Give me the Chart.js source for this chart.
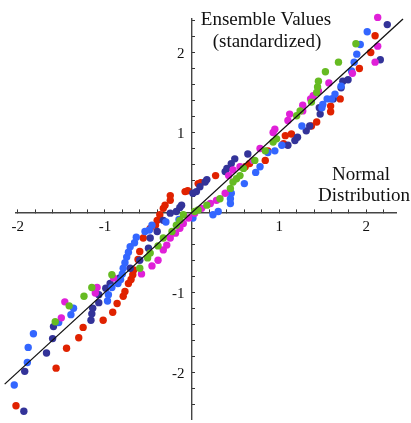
<!DOCTYPE html>
<html>
<head>
<meta charset="utf-8">
<script src="https://cdn.jsdelivr.net/npm/chart.js@4"></script>
<style>
  html, body { margin: 0; padding: 0; background: #fff; }
  canvas { display: block; }
</style>
</head>
<body>
<canvas id="qq" width="411" height="423"></canvas>
<script>
// ---------- DATA (normal quantile x, standardized ensemble value y) ----------
const greenX = [-2.08, -1.57, -1.41, -1.24, -1.15, -0.92, -0.60, -0.51, -0.48, -0.39, -0.33, -0.23, -0.18, -0.14, -0.10, 0.03, 0.07, 0.17, 0.32, 0.44, 0.47, 0.51, 0.55, 0.59, 0.72, 0.84, 0.93, 0.97, 1.20, 1.24, 1.37, 1.43, 1.44, 1.45, 1.53, 1.68, 1.88, 2.16];
const greenY = [-1.83, -1.37, -1.17, -1.05, -0.94, -0.78, -0.70, -0.57, -0.51, -0.42, -0.32, -0.24, -0.16, -0.10, -0.03, 0.01, 0.03, 0.09, 0.17, 0.30, 0.38, 0.42, 0.46, 0.55, 0.65, 0.77, 0.88, 0.92, 1.21, 1.27, 1.38, 1.50, 1.57, 1.64, 1.76, 1.88, 2.11, 2.53];

const magentaX = [-2.12, -1.50, -1.46, -1.11, -1.09, -0.90, -0.58, -0.46, -0.39, -0.33, -0.29, -0.25, -0.19, -0.14, -0.10, -0.04, 0.03, 0.11, 0.21, 0.28, 0.38, 0.42, 0.47, 0.55, 0.70, 0.78, 0.93, 0.95, 1.10, 1.12, 1.27, 1.27, 1.36, 1.39, 1.45, 1.57, 1.84, 2.10, 2.13, 2.13];
const magentaY = [-1.75, -1.32, -1.12, -1.01, -0.94, -0.82, -0.77, -0.67, -0.60, -0.47, -0.41, -0.32, -0.26, -0.20, -0.14, -0.07, -0.01, 0.05, 0.11, 0.15, 0.24, 0.46, 0.53, 0.57, 0.65, 0.80, 1.00, 1.04, 1.15, 1.23, 1.27, 1.34, 1.42, 1.46, 1.52, 1.62, 1.74, 1.88, 2.08, 2.44];

const redX = [-2.02, -1.56, -1.44, -1.30, -1.25, -1.02, -0.91, -0.86, -0.79, -0.77, -0.73, -0.70, -0.68, -0.67, -0.62, -0.60, -0.56, -0.48, -0.42, -0.40, -0.37, -0.33, -0.31, -0.25, -0.25, -0.08, -0.05, 0.07, 0.10, 0.27, 0.61, 0.66, 0.84, 0.87, 1.05, 1.07, 1.14, 1.37, 1.43, 1.59, 1.59, 1.70, 1.92, 2.05, 2.10];
const redY = [-2.42, -1.95, -1.70, -1.57, -1.44, -1.35, -1.25, -1.14, -1.05, -0.99, -0.89, -0.84, -0.78, -0.72, -0.59, -0.49, -0.32, -0.20, -0.16, -0.10, -0.03, 0.05, 0.09, 0.15, 0.21, 0.26, 0.27, 0.36, 0.37, 0.46, 0.57, 0.61, 0.65, 0.77, 0.86, 0.96, 0.98, 1.08, 1.13, 1.26, 1.33, 1.42, 1.80, 2.00, 2.21];

const blueX = [-2.04, -1.89, -1.88, -1.82, -1.53, -1.39, -1.36, -0.97, -0.96, -0.92, -0.85, -0.82, -0.80, -0.79, -0.77, -0.75, -0.73, -0.71, -0.66, -0.64, -0.54, -0.49, -0.46, -0.30, -0.15, 0.01, 0.24, 0.30, 0.44, 0.44, 0.45, 0.60, 0.73, 0.78, 0.87, 0.95, 1.03, 1.26, 1.49, 1.50, 1.55, 1.60, 1.64, 1.71, 1.83, 1.86, 1.89, 1.93, 2.01, 2.04];
const blueY = [-2.16, -1.88, -1.69, -1.52, -1.38, -1.28, -1.20, -1.11, -1.03, -0.94, -0.89, -0.84, -0.77, -0.70, -0.63, -0.56, -0.50, -0.43, -0.38, -0.31, -0.24, -0.22, -0.16, -0.12, -0.09, -0.07, -0.03, 0.01, 0.11, 0.17, 0.24, 0.36, 0.50, 0.57, 0.75, 0.77, 0.84, 1.08, 1.31, 1.35, 1.42, 1.42, 1.48, 1.58, 1.77, 1.88, 1.98, 2.10, 2.26, 2.50];

const navyX = [-1.93, -1.92, -1.67, -1.60, -1.59, -1.16, -1.15, -1.14, -1.07, -1.07, -0.99, -0.94, -0.83, -0.71, -0.60, -0.50, -0.48, -0.40, -0.33, -0.25, -0.18, -0.14, -0.12, 0.01, 0.05, 0.09, 0.15, 0.17, 0.38, 0.40, 0.45, 0.49, 0.64, 1.10, 1.18, 1.21, 1.31, 1.35, 1.46, 1.47, 1.62, 1.71, 1.73, 1.79, 2.16, 2.24];
const navyY = [-2.49, -1.99, -1.76, -1.58, -1.43, -1.35, -1.27, -1.20, -1.13, -1.03, -0.95, -0.89, -0.82, -0.70, -0.60, -0.45, -0.32, -0.24, -0.10, -0.01, 0.01, 0.06, 0.09, 0.24, 0.26, 0.32, 0.38, 0.41, 0.51, 0.55, 0.61, 0.67, 0.73, 0.84, 0.90, 0.94, 1.02, 1.08, 1.31, 1.23, 1.42, 1.56, 1.64, 1.66, 1.91, 2.35];

// reference line y = x
const refLine = [-2.15, 2.42];

const xRange = [-2.02, 2.34];
const yRange = [-2.59, 2.42];

function pts(xs, ys) {
  return xs.map((x, i) => ({ x: x, y: ys[i] }));
}

function series(label, xs, ys, color) {
  return {
    label: label,
    data: pts(xs, ys),
    backgroundColor: color,
    borderWidth: 0,
    pointRadius: 3.7,
    pointHoverRadius: 3.7,
    clip: false,
    order: 1
  };
}

const serif = { family: '"Liberation Serif", "Times New Roman", serif', size: 15 };

function intLabel(v) {
  const r = Math.round(v);
  return (Math.abs(v - r) < 1e-6 && r !== 0) ? String(r) : '';
}

// y labels are right-aligned on the axis itself, so pad them with spaces
function yLabel(v) {
  const s = intLabel(v);
  return s ? s + '  ' : '';
}

// axis titles, written next to the axes
const axisTitles = {
  id: 'axisTitles',
  afterDraw(chart) {
    const ctx = chart.ctx;
    ctx.save();
    ctx.font = '19px "Liberation Serif", "Times New Roman", serif';
    ctx.fillStyle = '#111';
    ctx.textAlign = 'center';
    ctx.textBaseline = 'middle';
    ctx.fillText('Ensemble Values', 266, 20);
    ctx.fillText('(standardized)', 267, 42);
    ctx.fillText('Normal', 361, 175);
    ctx.fillText('Distribution', 364, 196);
    ctx.restore();
  }
};

new Chart(document.getElementById('qq'), {
  type: 'scatter',
  data: {
    datasets: [
      {
        type: 'line',
        label: 'y = x',
        data: refLine.map(v => ({ x: v, y: v })),
        borderColor: '#111',
        borderWidth: 1.3,
        pointRadius: 0,
        fill: false,
        clip: false,
        order: 0
      },
      series('green', greenX, greenY, '#66bb22'),
      series('magenta', magentaX, magentaY, '#e020d8'),
      series('blue', blueX, blueY, '#3366ff'),
      series('navy', navyX, navyY, '#333399'),
      series('red', redX, redY, '#e02200')
    ]
  },
  options: {
    responsive: false,
    animation: false,
    layout: { padding: { left: 16, right: 15, top: 19, bottom: 1 } },
    plugins: { legend: { display: false }, tooltip: { enabled: false } },
    scales: {
      x: {
        type: 'linear',
        min: xRange[0],
        max: xRange[1],
        position: { y: 0 },
        border: { color: '#444', width: 1.4 },
        grid: { drawOnChartArea: false, tickLength: -4, color: '#333', lineWidth: 1 },
        ticks: {
          stepSize: 0.2, includeBounds: false, autoSkip: false, maxRotation: 0,
          padding: 10, color: '#111', font: serif, callback: intLabel
        },
        afterFit(scale) { scale.paddingLeft = 0; scale.paddingRight = 0; }
      },
      y: {
        type: 'linear',
        min: yRange[0],
        max: yRange[1],
        position: { x: 0 },
        border: { color: '#444', width: 1.4 },
        grid: { drawOnChartArea: false, tickLength: -4, color: '#333', lineWidth: 1 },
        ticks: {
          stepSize: 0.2, includeBounds: false, autoSkip: false,
          padding: 8, labelOffset: 2, color: '#111', font: serif, callback: yLabel
        },
        afterFit(scale) { scale.paddingTop = 0; scale.paddingBottom = 0; }
      }
    }
  },
  plugins: [axisTitles]
});
</script>
</body>
</html>
